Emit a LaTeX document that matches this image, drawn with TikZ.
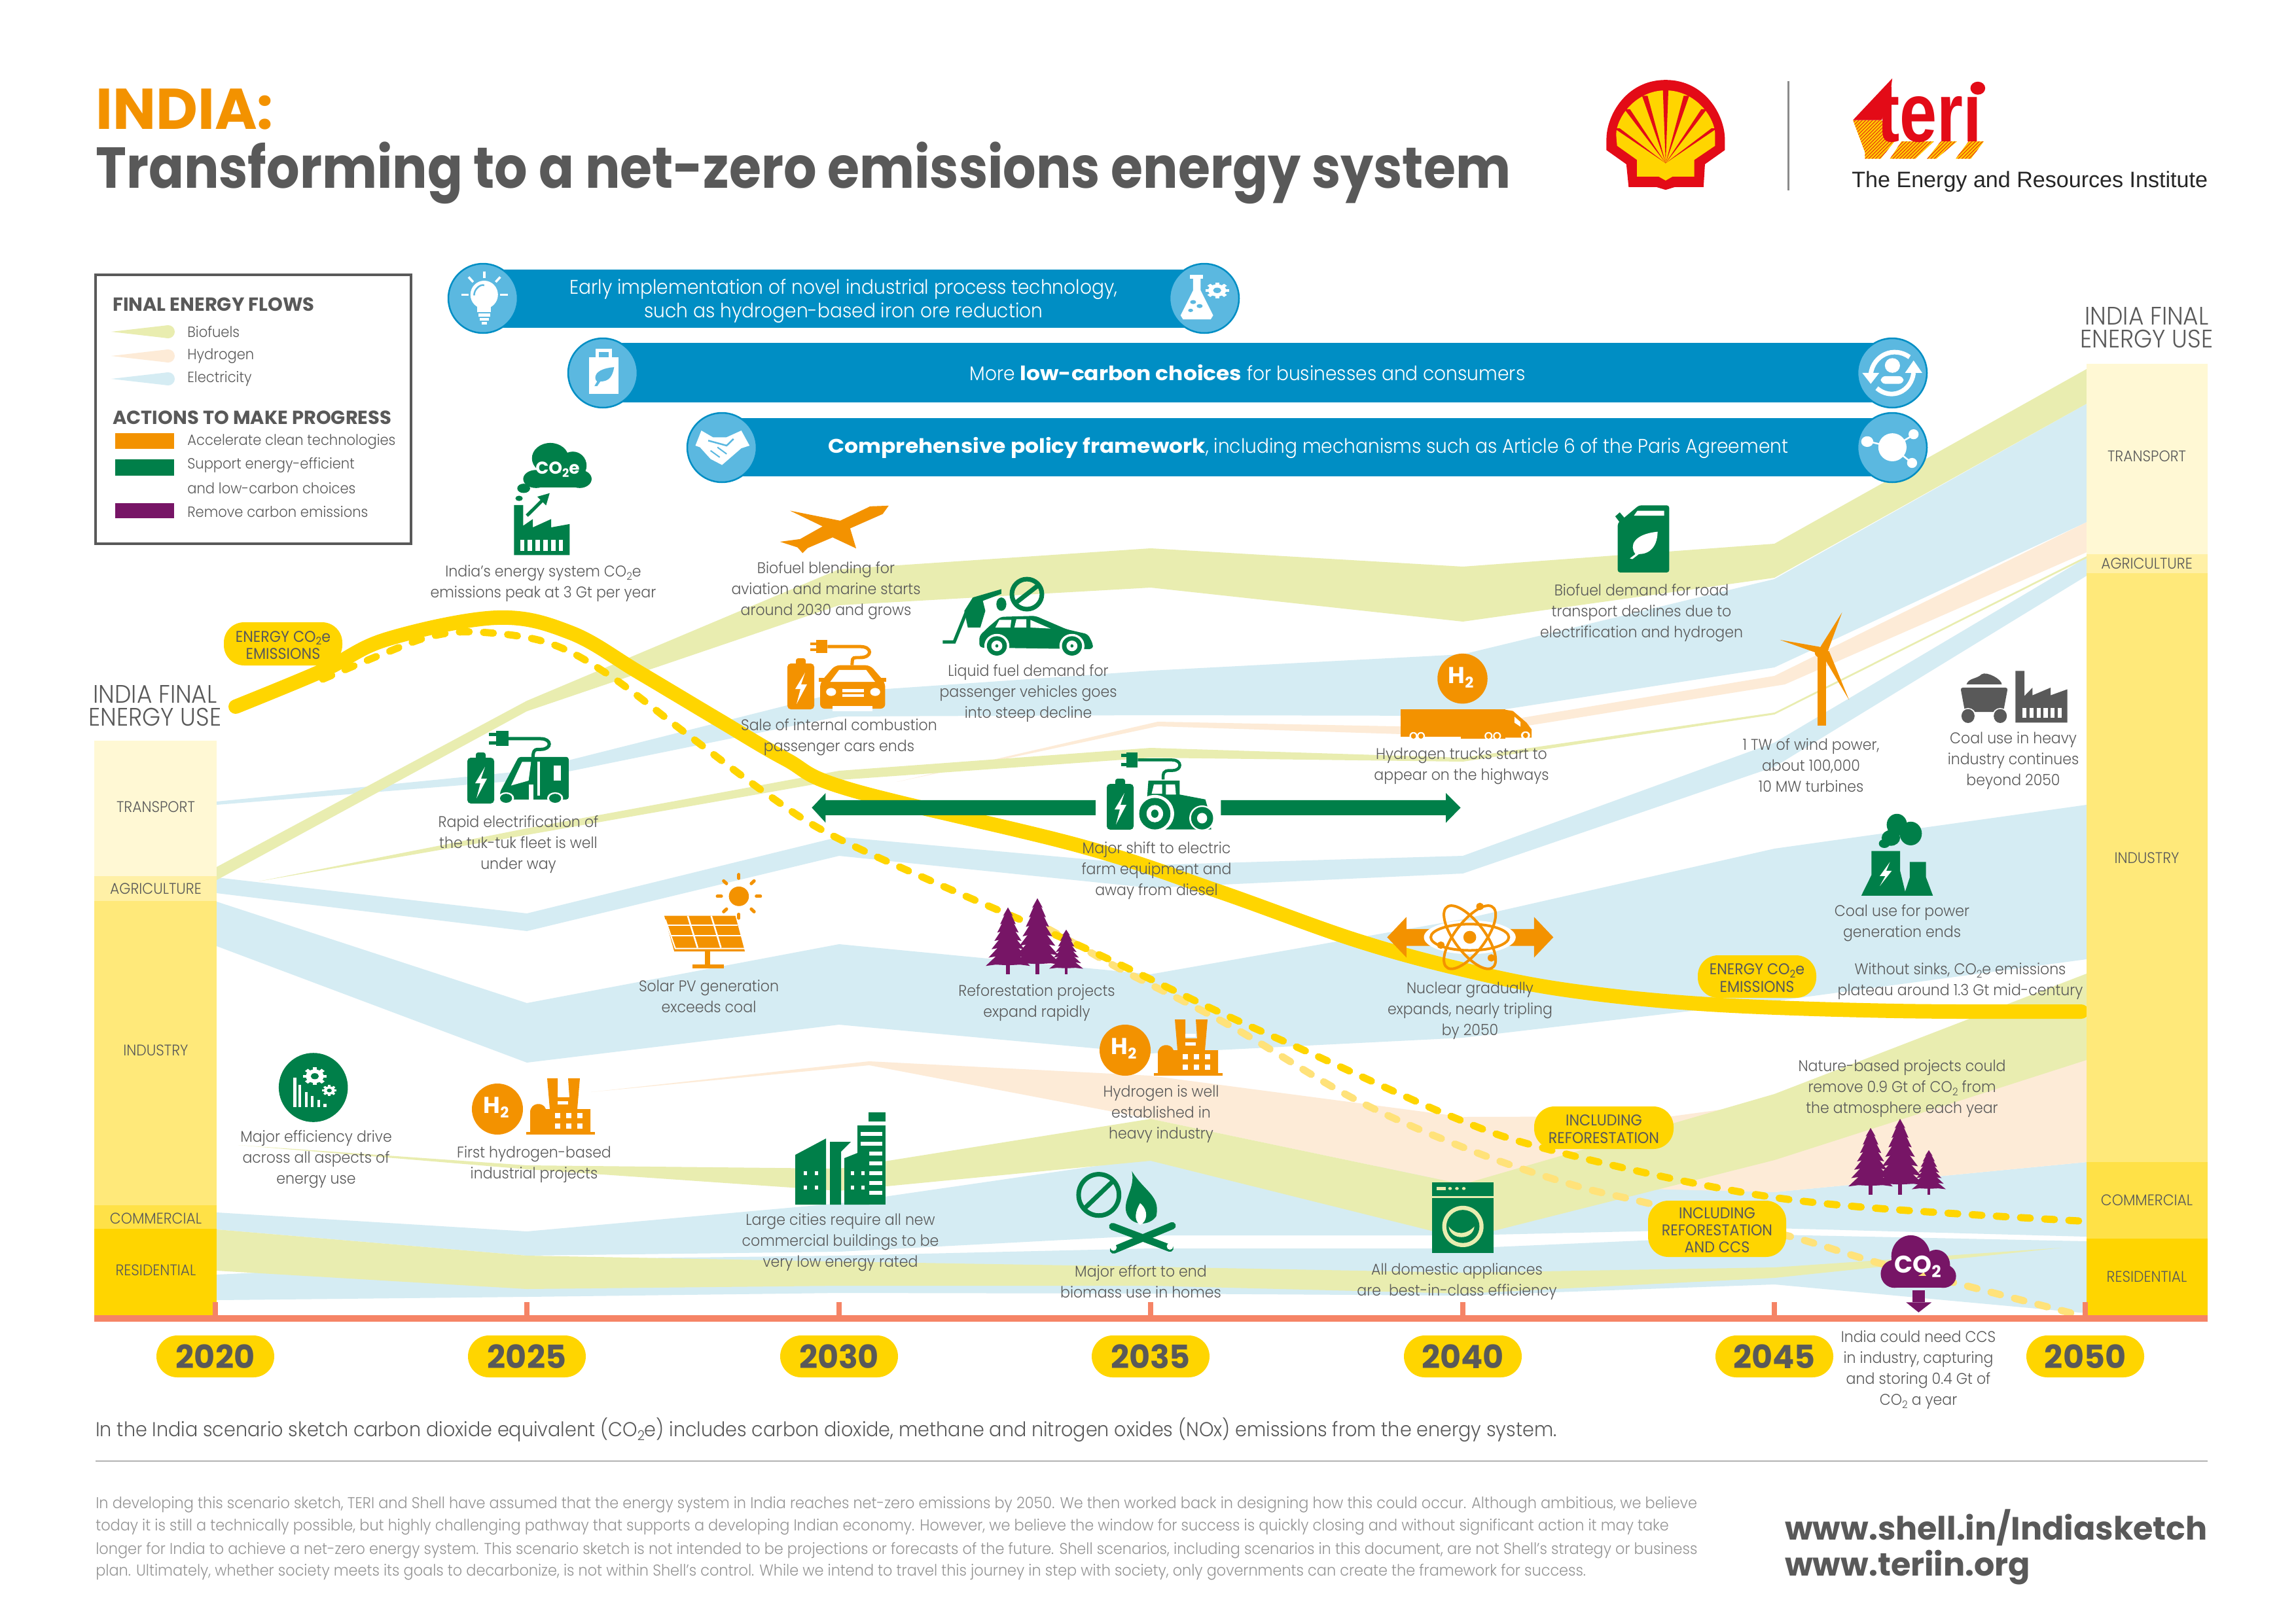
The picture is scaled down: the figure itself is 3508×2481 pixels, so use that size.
\documentclass[tikz,border=0pt]{standalone}
\usepackage{fontspec}
\usepackage{graphicx}
\usetikzlibrary{patterns,arrows.meta}
\setmainfont{Poppins}[UprightFont=* Light,BoldFont=* SemiBold,FakeStretch=0.93]
\newfontfamily\titf{Poppins}[UprightFont=* Bold,FakeStretch=0.9]
\newfontfamily\titb{Poppins}[UprightFont=* Bold,FakeStretch=1.0]
\newfontfamily\heavyf{Poppins}[UprightFont=* Bold,FakeStretch=1.0]
\newfontfamily\wideb{Poppins}[UprightFont=* Bold,FakeStretch=1.09]
\newfontfamily\regf{Poppins}[FakeStretch=0.93]
\newfontfamily\arialf{Liberation Sans}
\newfontfamily\teribf{Liberation Sans}[UprightFont=* Bold,FakeStretch=0.8]
\definecolor{txt}{HTML}{595959}
\definecolor{bio}{HTML}{E9EDB0}
\definecolor{hyd}{HTML}{FDEBD7}
\definecolor{ele}{HTML}{D5ECF3}
\definecolor{yel}{HTML}{FFD500}
\definecolor{yeldash}{HTML}{FFE27A}
\definecolor{org}{HTML}{F39200}
\definecolor{grn}{HTML}{007F49}
\definecolor{pur}{HTML}{771566}
\definecolor{blu}{HTML}{008EC4}
\definecolor{lblu}{HTML}{5BB8E0}
\definecolor{axs}{HTML}{F58466}
\definecolor{shred}{HTML}{E30B17}
\newcommand{\lowtwo}{\raisebox{-0.35ex}{\scalebox{.68}{2}}}
\newcommand{\cotwo}{CO\lowtwo}
\newcommand{\gearicon}[5]{% x y r col hole
 \fill[#4] (#1,#2) circle (#3);
 \foreach \a in {0,45,...,315}{\fill[#4,shift={(#1,#2)},rotate=\a] (-.22*#3,-1.3*#3) rectangle (.22*#3,1.3*#3);}
 \fill[#5] (#1,#2) circle (.45*#3);}
\newcommand{\batt}[3]{\begin{scope}[shift={(#1,#2)}]
 \fill[#3,rounded corners=2pt] (13,0) rectangle (28,12);
 \fill[#3,rounded corners=3pt] (0,8) rectangle (41,78);
 \fill[white] (27,22)--(12,47)--(20,47)--(14,70)--(30,40)--(21,40)--cycle;
 \end{scope}}
\newcommand{\fir}[4]{% cx bottom height halfwidth
 \fill[pur] (#1-.09*#4,#2-.14*#3) rectangle (#1+.09*#4,#2);
 \foreach \i in {0,...,6}{
  \pgfmathsetmacro{\ya}{#2-#3+max(0,\i-1.5)*.125*#3}
  \pgfmathsetmacro{\yb}{#2-#3+(\i+1)*.125*#3}
  \pgfmathsetmacro{\hw}{#4*(.22+\i*.13)}
  \fill[pur] (#1,\ya) -- (#1-\hw,\yb) -- (#1-.55*\hw,\yb-.02*#3) -- (#1,\yb-.01*#3) -- (#1+.55*\hw,\yb-.02*#3) -- (#1+\hw,\yb) -- cycle;}
 }
\newcommand{\trees}[2]{\begin{scope}[shift={(#1,#2)}]
 \fir{33}{0}{102}{34}\fir{78}{0}{116}{37}\fir{122}{0}{68}{26}
 \end{scope}}
\newcommand{\hfactory}[2]{\begin{scope}[shift={(#1,#2)}]
 \fill[org] (0,0) circle (39);
 \node[font=\heavyf\fontsize{20}{20}\selectfont,text=white,inner sep=0] at (-2,-2) {H\raisebox{-.35ex}{\scalebox{.65}{2}}};
 \fill[org] (44,35) rectangle (149,39);
 \fill[org] (50,36)--(50,5)..controls (50,-10) and (70,-12) .. (74,0)--(80,0)--(76,-47)--(92,-47)--(92,-18)--(110,-18)--(108,-47)--(126,-47)--(122,0)--(142,0)--(142,36)--cycle;
 \foreach \a in {88,105,122}{\foreach \b in {6,22}{\fill[white] (\a,\b) rectangle (\a+8,\b+8);}}
 \fill[white] (92,-25) rectangle (108,-20);
 \fill[white] (92,-12) rectangle (108,-7);
 \end{scope}}
\tikzset{x=0.02cm,y=-0.02cm,
 z1/.style={shift={(100,380)},xscale=.7015,yscale=.5102},
 z2/.style={shift={(1100,380)},xscale=.765,yscale=.5102},
 z3/.style={shift={(2300,380)},xscale=.77,yscale=.5102},
 z4/.style={shift={(100,1150)},xscale=.765,yscale=.574},
 z5/.style={shift={(1300,1150)},xscale=.7015,yscale=.574},
 z6/.style={shift={(2400,1150)},xscale=.7066,yscale=.6696},
 z8/.style={shift={(2400,80)},xscale=.7066,yscale=.332},
 captxt/.style={align=center,text=txt,font=\fontsize{13.5}{18.2}\selectfont,inner sep=0},
 barlab/.style={align=center,text=txt,font=\fontsize{13.4}{14}\selectfont,inner sep=0},
 headtxt/.style={align=center,text=txt,font=\fontsize{22}{20}\selectfont,inner sep=0},
 pilltxt/.style={align=center,text=txt,font=\regf\fontsize{13.6}{15}\selectfont,inner sep=0},
 bartxt/.style={align=center,text=white,font=\fontsize{17.2}{20.5}\selectfont,inner sep=0},
 legtxt/.style={anchor=west,text=txt,font=\fontsize{12.9}{14}\selectfont,inner sep=0},
 leghead/.style={anchor=west,text=txt,font=\heavyf\fontsize{16.5}{17}\selectfont,inner sep=0},
 yeartxt/.style={text=txt,font=\heavyf\fontsize{28}{28}\selectfont,inner sep=0},
 foottxt/.style={anchor=west,text=black!42,font=\fontsize{13.7}{15}\selectfont,inner sep=0},
 urltxt/.style={anchor=west,text=txt,font=\heavyf\fontsize{28}{30}\selectfont,inner sep=0},
 bcirc/.style={fill=lblu,draw=blu,line width=.05cm},
 dashA/.style={draw=yel,line width=.22cm,line cap=round,dash pattern=on .3cm off .44cm},
 dashB/.style={draw=yeldash,line width=.22cm,line cap=round,dash pattern=on .3cm off .44cm},
}
\newcommand{\pill}[6]{% name x0 y0 x1 y1 text
 \fill[yel,rounded corners=.62cm] (#2,#3) rectangle (#4,#5);
 \node[pilltxt] (#1) at ({(#2+#4)/2},{(#3+#5)/2+2}) {#6};}
\newcommand{\yearpill}[2]{\fill[yel,rounded corners=.64cm] (#1-90,2041) rectangle (#1+90,2105);
 \node[yeartxt] (y#2) at (#1,2073) {#2};}
\newcommand{\cnode}[4]{\node[captxt] (#1) at (#2,#3+4) {#4};}
\begin{document}
\begin{tikzpicture}
\useasboundingbox (0,0) rectangle (3508,2481);
\fill[white] (0,0) rectangle (3508,2481);
% ---- electricity flows
\fill[ele] (331,1225)--(805,1178)--(1282,1058)--(1758,1025)--(2235,1000)--(2711,885)--(3188,617)--(3188,798)--(2711,1020)--(2235,1094)--(1758,1093)--(1282,1095)--(805,1192)--(331,1230)--cycle;
\fill[ele] (331,1341)--(805,1396)--(1282,1279)--(1758,1322)--(2235,1308)--(2711,1135)--(3188,852)--(3188,880)--(2711,1172)--(2235,1335)--(1758,1357)--(1282,1308)--(805,1423)--(331,1365)--cycle;
\fill[ele] (331,1378)--(805,1533)--(1282,1443)--(1758,1489)--(2235,1405)--(2711,1297)--(3188,1230)--(3188,1466)--(2711,1530)--(2235,1586)--(1758,1610)--(1282,1566)--(805,1624)--(331,1446)--cycle;
\fill[ele] (331,1853)--(805,1882)--(1282,1839)--(1758,1770)--(2235,1787)--(2711,1822)--(3188,1776)--(3188,1890)--(2711,1877)--(2235,1888)--(1758,1888)--(1282,1913)--(805,1919)--(331,1879)--cycle;
\fill[ele] (331,1948)--(805,1925)--(1282,1919)--(1758,1908)--(2235,1908)--(2711,1887)--(3188,1897)--(3188,2007)--(2711,1963)--(2235,1980)--(1758,1977)--(1282,1976)--(805,1982)--(331,1987)--cycle;
% ---- hydrogen flows
\fill[hyd] (1370,1195)--(1769,1103)--(2235,1112)--(2711,1033)--(3188,798)--(3188,844)--(2727,1046)--(2235,1125)--(1769,1110)--cycle;
\fill[hyd] (903,1669)--(1328,1622)--(1758,1644)--(2235,1707)--(2555,1706)--(3188,1620)--(3188,1776)--(2711,1822)--(2235,1810)--(1758,1710)--(1328,1628)--cycle;
% ---- biofuel flows
\fill[bio] (331,1325)--(805,1071)--(1282,870)--(1758,838)--(2235,866)--(2711,831)--(3188,564)--(3188,617)--(2711,883)--(2235,950)--(1758,898)--(1282,925)--(805,1087)--(331,1345)--cycle;
\fill[bio] (395,1347)--(805,1266)--(1282,1178)--(1758,1143)--(2235,1158)--(2711,1089)--(3188,850)--(3188,853)--(2711,1092)--(2235,1164)--(1758,1158)--(1282,1192)--(805,1276)--cycle;
\fill[bio] (364,1750)--(805,1781)--(1282,1786)--(1758,1710)--(2235,1810)--(2711,1672)--(3188,1488)--(3188,1620)--(2711,1773)--(2235,1893)--(1758,1774)--(1282,1820)--(805,1787)--cycle;
\fill[bio] (331,1879)--(805,1919)--(1282,1928)--(1758,1936)--(2235,1945)--(2711,1937)--(3150,1907)--(2711,1953)--(2235,1977)--(1758,1965)--(1282,1965)--(805,1970)--(331,1942)--cycle;
% ---- left stack
\fill[yel!17!white] (144,1132) rectangle (331,1339);
\fill[yel!35!white] (144,1339) rectangle (331,1377);
\fill[yel!52!white] (144,1377) rectangle (331,1842);
\fill[yel!72!white] (144,1842) rectangle (331,1878);
\fill[yel] (144,1878) rectangle (331,2010);
% ---- emission curves
\draw[dashB] plot[smooth,tension=.6] coordinates {(1602,1420)(1658,1451)(1721,1486)(1882,1569)(2072,1681)(2247,1758)(2400,1810)(2506,1836)(2725,1887)(2859,1927)(3000,1964)(3177,2010)};
\draw[dashA] plot[smooth,tension=.6] coordinates {(493,1038)(591,997)(661,972)(731,966)(836,982)(928,1030)(1047,1120)(1171,1213)(1270,1276)(1440,1354)(1651,1446)(1861,1546)(2001,1609)(2212,1704)(2352,1753)(2612,1813)(2824,1843)(3177,1866)};
\draw[yel,line width=.44cm,line cap=round] plot[smooth,tension=.6] coordinates {(360,1080)(493,1025)(591,977)(759,944)(872,967)(977,1028)(1096,1099)(1200,1160)(1300,1207)(1651,1293)(1861,1362)(2072,1437)(2240,1483)(2400,1514)(2612,1535)(2895,1545)(3180,1546)};
% ---- right stack
\fill[yel!17!white] (3188,556) rectangle (3373,847);
\fill[yel!35!white] (3188,847) rectangle (3373,876);
\fill[yel!52!white] (3188,876) rectangle (3373,1776);
\fill[yel!72!white] (3188,1776) rectangle (3373,1893);
\fill[yel] (3188,1893) rectangle (3373,2010);
% axis
\fill[axs] (144,2010) rectangle (3373,2020);
\foreach \t in {329,805,1282,1758,2235,2711,3186}{\fill[axs] (\t-4,1990) rectangle (\t+4,2012);}
\yearpill{329}{2020}\yearpill{805}{2025}\yearpill{1282}{2030}\yearpill{1758}{2035}\yearpill{2235}{2040}\yearpill{2711}{2045}\yearpill{3186}{2050}
% ---- pills
\pill{p1}{342}{951}{523}{1017}{ENERGY \cotwo e\\EMISSIONS}
\pill{p2}{2594}{1460}{2775}{1525}{ENERGY \cotwo e\\EMISSIONS}
\pill{p3}{2344}{1691}{2557}{1756}{INCLUDING\\REFORESTATION}
\pill{p4}{2518}{1835}{2729}{1921}{INCLUDING\\REFORESTATION\\AND CCS}
% ---- title
\node[anchor=west,text=org,font=\titb\fontsize{50}{50}\selectfont,inner sep=0] (t1) at (146,167) {INDIA:};
\node[anchor=west,text=txt,font=\titf\fontsize{50.2}{50}\selectfont,inner sep=0] (t2) at (146,264) {Transforming to a net-zero emissions energy system};
% ---- logos
\begin{scope}[z8]
 \fill[shred] (205,127) .. controls (120,127) and (77,290) .. (77,400) -- (77,450) -- (120,515) -- (125,620) -- (185,620) -- (205,633) -- (225,620) -- (287,620) -- (290,515) -- (333,450) -- (333,400) .. controls (333,290) and (290,127) .. (205,127) -- cycle;
 \fill[yel] (205,175) .. controls (140,175) and (98,300) .. (98,380) -- (100,430) -- (143,495) -- (143,572) -- (190,572) -- (205,590) -- (220,572) -- (267,572) -- (267,495) -- (312,430) -- (312,380) .. controls (312,300) and (270,175) .. (205,175) -- cycle;
 \foreach \xe/\ye in {205/170,160/200,250/200,122/262,288/262,100/350,310/350}{\fill[shred] (205,510)--(\xe-6,\ye)--(\xe+6,\ye)--cycle;}
 \fill[txt!70!white] (469,132) rectangle (472,635);
 \foreach \pp in {{(610,312)--(672,312)--(700,410)--(670,490)--(636,490)--(636,460)},{(715,410)--(785,410)--(745,490)--(690,490)},{(800,410)--(835,410)--(790,490)--(770,490)},{(860,410)--(893,410)--(865,490)--(832,490)}}{
  \fill[yel!85!orange] \pp --cycle; \fill[pattern=north east lines,pattern color=shred] \pp --cycle;}
 \fill[shred] (695,120)--(610,312)--(672,312)--(690,205)--cycle;
 \fill[shred] (880,165) ellipse (16 and 30);
\end{scope}
\node[anchor=base west,inner sep=0,text=shred,font=\teribf\fontsize{73}{73}\selectfont] (teri) at (2868,216) {ter\i};
\node[anchor=west,inner sep=0,text=black!85,font=\arialf\fontsize{19.4}{20}\selectfont] (ter2) at (2829,278) {The Energy and Resources Institute};
% ---- legend
\draw[draw=txt,line width=.08cm] (146,420) rectangle (628,831);
\node[leghead] (l1) at (172,465) {FINAL ENERGY FLOWS};
\foreach \yy/\cc/\tt in {507/bio/Biofuels,544/hyd/Hydrogen,579/ele/Electricity}{
 \fill[\cc] (170,\yy)--(257,\yy-10)--(257,\yy+10)--cycle; \fill[\cc] (257,\yy) circle (10);
 \node[legtxt] at (286,\yy) {\tt};}
\node[leghead] (l2) at (172,638) {ACTIONS TO MAKE PROGRESS};
\fill[org] (176,662) rectangle (266,686);
\fill[grn] (176,702) rectangle (266,727);
\fill[pur] (176,769) rectangle (266,792);
\node[legtxt] (l3) at (286,675) {Accelerate clean technologies};
\node[legtxt] (l4) at (286,711) {Support energy-efficient};
\node[legtxt] (l5) at (286,746) {and low-carbon choices};
\node[legtxt] (l6) at (286,782) {Remove carbon emissions};
% ---- blue bars
\fill[blu] (738,412) rectangle (1840,501);
\fill[blu] (921,524) rectangle (2891,615);
\fill[blu] (1103,639) rectangle (2891,728);
\node[bartxt] (b1) at (1289,460) {Early implementation of novel industrial process technology,\\such as hydrogen-based iron ore reduction};
\node[bartxt] (b2) at (1906,570) {More {\wideb low-carbon choices} for businesses and consumers};
\node[bartxt] (b3) at (1999,684) {{\wideb Comprehensive policy framework}, including mechanisms such as Article 6 of the Paris Agreement};
\foreach \cx/\cy in {738/456,1840/456,921/570,2891/570,1103/684,2891/684}{\draw[bcirc] (\cx,\cy) circle (53);}
\begin{scope}[z1]
 % bulb
 \fill[white] (912,138) ellipse (30 and 42);
 \fill[white] (897,165) rectangle (927,190);
 \fill[white] (899,195) rectangle (925,203); \fill[white] (902,208) rectangle (922,216); \fill[white] (906,220) rectangle (918,228);
 \draw[lblu,line width=.05cm] (890,140) .. controls (890,120) and (905,105) .. (912,110);
 \foreach \xa/\ya/\xb/\yb in {862/138/878/138,947/138/963/138,878/85/888/100,947/85/937/100,912/68/912/88}{\draw[white,line width=.07cm] (\xa,\ya)--(\xb,\yb);}
 % bag
 \fill[white] (1140,325) rectangle (1205,435);
 \draw[white,line width=.1cm] (1158,325)--(1158,305)--(1187,305)--(1187,325);
 \fill[lblu] (1195,355) .. controls (1150,360) and (1150,390) .. (1158,398) -- (1152,412) -- (1158,412) -- (1165,398) .. controls (1185,398) and (1192,380) .. (1195,355) -- cycle;
 % handshake
 \fill[white] (1372,590)--(1385,545)--(1410,565)--(1440,565)--(1472,545)--(1490,590)--(1472,598)--(1430,648)--(1405,630)--(1382,595)--cycle;
 \draw[lblu,line width=.05cm] (1400,575)--(1440,590)--(1455,570);
 \draw[lblu,line width=.04cm] (1405,605)--(1425,625) (1420,595)--(1440,615);
 % CO2e icon
 \fill[grn] (1025,690) ellipse (28 and 27);
 \fill[grn] (1056,628) ellipse (40 and 46);
 \fill[grn] (1105,650) ellipse (30 and 42);
 \fill[grn] (1120,690) ellipse (26 and 27);
 \fill[grn] (1025,670) rectangle (1120,716);
 \fill[grn] (998,718) circle (14);
 \fill[grn] (988,748) circle (8);
 \fill[grn] (977,918)--(977,768)--(997,768)--(997,830)--(1018,810)--(1018,835)--(1058,810)--(1058,835)--(1098,825)--(1098,918)--cycle;
 \foreach \a in {990,1007,1024,1041,1058,1075}{\fill[white] (\a,872) rectangle (\a+9,905);}
 \draw[grn,line width=.1cm,-{Triangle[length=.35cm,width=.35cm]}] (1005,800)--(1055,732);
\end{scope}
\node[inner sep=0,text=white,font=\heavyf\fontsize{15}{15}\selectfont] (co2e) at (852,718) {\cotwo e};
\begin{scope}[z2]
 % flask
 \fill[white] (938,78) rectangle (965,90);
 \fill[white] (945,90)--(960,90)--(960,125)--(985,200)--(980,212)--(925,212)--(920,200)--(945,125)--cycle;
 \fill[lblu] (945,160) circle (6); \fill[lblu] (958,172) circle (6); \fill[lblu] (940,185) circle (5);
 % plane
 \fill[org] (337,770)--(300,772)--(240,815)--(140,785)--(205,832)--(160,870)--(120,878)--(155,895)--(165,912)--(175,897)--(225,865)--(272,898)--(260,838)--(325,795)--cycle;
 % car + plug
 \fill[org] (192,1172) rectangle (215,1212);
 \fill[org] (180,1180) rectangle (192,1188); \fill[org] (180,1198) rectangle (192,1206);
 \draw[org,line width=.1cm] (215,1192)--(280,1192) .. controls (305,1192) and (305,1225) .. (280,1225) -- (272,1225) .. controls (264,1225) and (264,1230) .. (264,1248);
 \fill[org,rounded corners=4pt] (200,1378)--(200,1300)--(230,1248)--(300,1248)--(330,1300)--(330,1378)--cycle;
 \fill[org] (198,1285) rectangle (332,1298);
 \fill[white] (238,1262)--(292,1262)--(310,1298)--(220,1298)--cycle;
 \fill[white] (222,1328) ellipse (10 and 12); \fill[white] (310,1328) ellipse (10 and 12);
 \fill[white] (245,1320) rectangle (288,1328); \fill[white] (245,1335) rectangle (288,1343);
 \fill[white] (225,1370) rectangle (305,1385);
 % green car
 \fill[grn,rounded corners=3pt] (518,1195)--(518,1160)--(535,1135)--(560,1103)--(630,1100)--(692,1140)--(735,1155)--(745,1185)--(745,1200)--cycle;
 \fill[white] (558,1112)--(582,1112)--(580,1135)--(550,1135)--cycle;
 \fill[white] (592,1110)--(612,1110)--(612,1135)--(588,1135)--cycle;
 \fill[white] (620,1112)--(660,1138)--(620,1135)--cycle;
 \foreach \wx in {553,703}{\fill[white] (\wx,1190) ellipse (25 and 36); \fill[grn] (\wx,1190) ellipse (20 and 29); \fill[white] (\wx,1190) ellipse (11 and 16); \fill[grn] (\wx,1190) ellipse (3 and 5);}
 % pump
 \fill[grn] (488,1085)--(505,1045)--(562,1020)--(562,1034)--(525,1055)--(530,1085)--(520,1135)--(495,1135)--cycle;
 \draw[grn,line width=.1cm] (445,1178)--(468,1178)--(493,1085);
 \fill[grn] (562,1065) ellipse (10 and 20);
 \draw[grn,line width=.14cm] (613,1035) ellipse (30 and 45);
 \draw[grn,line width=.14cm] (590,1062)--(636,1008);
\end{scope}
\batt{1203}{1006}{org}
\begin{scope}[z3]
 % refresh
 \fill[white] (768,350) ellipse (15 and 22);
 \fill[white,rounded corners=4pt] (745,405)--(745,382)--(790,382)--(790,405)--cycle;
 \draw[white,line width=.14cm] (725,375) .. controls (730,320) and (770,290) .. (802,325);
 \draw[white,line width=.14cm] (810,372) .. controls (805,430) and (765,455) .. (737,418);
 \fill[white] (708,372)--(742,372)--(725,405)--cycle;
 \fill[white] (793,372)--(827,372)--(810,335)--cycle;
 % network
 \draw[white,line width=.05cm] (722,578)--(768,595)--(810,558) (768,595)--(805,640);
 \fill[white] (768,595) ellipse (28 and 42);
 \fill[white] (718,578) ellipse (12 and 16);
 \fill[white] (810,556) ellipse (10 and 15);
 \fill[white] (807,642) ellipse (10 and 15);
 % jerrycan
 \fill[grn,rounded corners=2pt] (265,769)--(325,769)--(325,970)--(223,970)--(223,822)--cycle;
 \fill[grn] (218,802)--(227,790)--(236,806)--(227,820)--cycle;
 \fill[white] (262,785)--(315,785)--(315,800)--(255,800)--cycle;
 \fill[white] (302,848) .. controls (255,855) and (245,890) .. (258,915) -- (247,928) -- (252,930) -- (265,915) .. controls (290,915) and (302,885) .. (302,848) -- cycle;
 % turbine
 \fill[org] (620,1215) rectangle (636,1428);
 \fill[org] (628,1212) circle (14);
 \fill[org] (620,1205)--(668,1090)--(640,1205)--cycle;
 \fill[org] (632,1195)--(545,1172)--(625,1215)--cycle;
 \fill[org] (630,1220)--(682,1352)--(642,1205)--cycle;
 % coal cart
 \fill[txt] (915,1305) .. controls (920,1285) and (935,1290) .. (945,1275) .. controls (955,1265) and (985,1290) .. (985,1305) -- cycle;
 \fill[txt,rounded corners=2pt] (903,1315)--(997,1315)--(988,1388)--(912,1388)--cycle;
 \foreach \wx in {918,982}{\fill[white] (\wx,1400) ellipse (16 and 24); \fill[txt] (\wx,1400) ellipse (13 and 21);}
 \fill[txt] (1012,1420)--(1012,1265)--(1030,1265)--(1030,1340)--(1046,1315)--(1046,1338)--(1082,1315)--(1082,1338)--(1115,1320)--(1115,1420)--cycle;
 \foreach \a in {1026,1040,1054,1068,1082,1096}{\fill[white] (\a,1375) rectangle (\a+8,1405);}
\end{scope}
\begin{scope}[z2]
 \gearicon{993}{125}{18}{white}{lblu}
 % truck trailer
 \fill[org] (1360,1380) rectangle (1568,1462);
 \fill[org] (1480,1455) rectangle (1568,1468);
 \foreach \wx in {1385,1400,1535,1552}{\fill[white] (\wx,1460) ellipse (8 and 12); \fill[org] (\wx,1460) ellipse (5 and 8);}
 \fill[org] (1483,1288) ellipse (50 and 75);
\end{scope}
\begin{scope}[z3]
 \fill[org] (-5,1380)--(15,1385)--(42,1420)--(52,1440)--(52,1465)--(-5,1465)--cycle;
 \fill[white] (18,1402)--(30,1418)--(30,1432)--(18,1420)--cycle;
 \fill[white] (40,1458) ellipse (9 and 12); \fill[org] (40,1458) ellipse (5 and 8);
\end{scope}
\node[inner sep=0,text=white,font=\heavyf\fontsize{20}{20}\selectfont] (h2t) at (2232,1036) {H\raisebox{-.35ex}{\scalebox{.65}{2}}};
\begin{scope}[z4]
 % efficiency
 \fill[grn] (495,892) ellipse (69 and 92);
 \gearicon{498}{862}{18}{white}{grn}
 \gearicon{527}{900}{11}{white}{grn}
 \foreach \bx/\by in {455/865,465/885,478/905,490/915,503/925,515/935}{\fill[white] (\bx,\by) rectangle (\bx+6,945);}
 % solar
 \fill[org] (1196,435)--(1338,435)--(1357,530)--(1216,530)--cycle;
 \foreach \a in {0.33,0.66}{\draw[white,line width=.05cm] ({1196+\a*142},435)--({1216+\a*141},520);}
 \draw[white,line width=.05cm] (1202,460)--(1343,460) (1208,488)--(1350,488);
 \draw[white,line width=.04cm] (1198,445)--(1218,522)--(1357,522);
 \fill[org] (1277,530) rectangle (1288,570);
 \fill[org] (1252,565) rectangle (1315,575);
 \fill[org] (1345,383) ellipse (20 and 26);
 \foreach \a in {0,45,...,315}{\draw[org,line width=.1cm,line cap=round,shift={(1345,383)}] ({cos(\a)*35},{sin(\a)*48})--({cos(\a)*43},{sin(\a)*58});}
\end{scope}
\batt{714}{1150}{grn}
\begin{scope}[z4]
 % tuk-tuk body
 \fill[grn,rounded corners=2pt] (868,125)--(868,105)--(890,50)--(905,12)--(1005,12)--(1005,125)--cycle;
 \fill[white] (912,25)--(930,25)--(925,75)--(890,88)--cycle;
 \fill[white] (925,85) rectangle (935,125);
 \fill[white] (975,35) rectangle (990,75);
 \fill[white] (942,25) rectangle (948,115);
 \fill[white] (880,122) circle (16); \fill[white] (978,122) circle (16);
 \fill[grn] (880,122) circle (12); \fill[grn] (978,122) circle (12);
\end{scope}
\begin{scope}[z1]
 \fill[grn] (938,1445) rectangle (965,1490);
 \fill[grn] (922,1450) rectangle (938,1460); \fill[grn] (922,1475) rectangle (938,1485);
 \draw[grn,line width=.1cm] (965,1468)--(1035,1468) .. controls (1060,1468) and (1060,1500) .. (1035,1500) -- (1030,1500) .. controls (1018,1500) and (1018,1510) .. (1018,1545);
\end{scope}
\begin{scope}[z5]
 % tractor plug
 \fill[grn] (600,0) rectangle (625,40);
 \fill[grn] (588,3) rectangle (600,12); \fill[grn] (588,28) rectangle (600,37);
 \draw[grn,line width=.09cm] (625,20)--(700,20) .. controls (722,20) and (722,48) .. (700,48) -- (695,48) .. controls (680,48) and (680,55) .. (680,72);
 \fill[grn] (648,75)--(716,75)--(716,112)--(772,125)--(778,150)--(785,205)--(640,205)--cycle;
 \fill[white] (660,85)--(678,85)--(678,110)--(655,110)--cycle;
 \fill[white] (686,85)--(706,85)--(708,112)--(686,112)--cycle;
 \fill[white] (662,163) ellipse (42 and 50); \fill[grn] (662,163) ellipse (34 and 42);
 \fill[white] (662,163) ellipse (18 and 23); \fill[grn] (662,163) ellipse (8 and 11);
 \fill[white] (765,175) ellipse (28 and 34); \fill[grn] (765,175) ellipse (24 and 30); \fill[white] (765,175) ellipse (11 and 14);
 % arrows green
 \fill[grn] (533,127)--(-55,127)--(-55,108)--(-85,147)--(-55,187)--(-55,167)--(533,167)--cycle;
 \fill[grn] (806,127)--(1296,127)--(1296,108)--(1328,147)--(1296,187)--(1296,167)--(806,167)--cycle;
 % atom
 \fill[org] (1168,492)--(1210,438)--(1210,470)--(1270,470)--(1270,515)--(1210,515)--(1210,546)--cycle;
 \fill[org] (1530,492)--(1488,438)--(1488,470)--(1430,470)--(1430,515)--(1488,515)--(1488,546)--cycle;
 \fill[white] (1348,492) ellipse (100 and 45);
 \draw[org,line width=.08cm] (1348,492) ellipse (85 and 35);
 \foreach \an in {60,-60}{\draw[org,line width=.08cm,rotate around={\an:(1348,492)}] (1348,492) ellipse (95 and 35);}
 \fill[org] (1348,492) ellipse (14 and 17);
 \fill[org] (1285,513) ellipse (8 and 10); \fill[org] (1395,547) ellipse (8 and 10); \fill[org] (1370,410) ellipse (8 and 10);
 % washing machine
 \fill[grn] (1266,1145) rectangle (1400,1332);
 \fill[bio] (1266,1182) rectangle (1400,1186);
 \fill[bio] (1276,1156) rectangle (1296,1166);
 \foreach \a in {1305,1320,1335}{\fill[bio] (\a,1161) circle (4);}
 \fill[bio] (1333,1262) ellipse (45 and 55);
 \fill[grn] (1333,1262) ellipse (36 and 44);
 \fill[bio] (1302,1262) .. controls (1320,1290) and (1345,1280) .. (1358,1262) .. controls (1355,1300) and (1305,1300) .. (1302,1262) -- cycle;
 % fire
 \draw[grn,line width=.14cm] (540,1178) ellipse (44 and 55);
 \draw[grn,line width=.14cm] (508,1215)--(572,1140);
 \fill[grn] (612,1115) .. controls (640,1170) and (675,1180) .. (665,1235) .. controls (650,1262) and (610,1262) .. (600,1225) .. controls (592,1190) and (620,1160) .. (612,1115) -- cycle;
 \fill[white] (630,1200) .. controls (650,1220) and (645,1250) .. (630,1258) .. controls (615,1245) and (620,1220) .. (630,1200) -- cycle;
 \draw[grn,line width=.22cm,line cap=round] (572,1325)--(700,1260);
 \draw[grn,line width=.22cm,line cap=round] (570,1262)--(695,1320);
 \fill[white] (572,1318) ellipse (7 and 9); \fill[white] (695,1315) ellipse (7 and 9);
\end{scope}
\hfactory{760}{1695}
\hfactory{1719}{1605}
\batt{1691}{1190}{grn}
\trees{1507}{1489}
\trees{2825}{1826}
% buildings
\fill[grn] (1215,1765)--(1262,1740)--(1262,1841)--(1215,1841)--cycle;
\fill[grn] (1268,1745)--(1300,1745)--(1285,1760)--(1285,1841)--(1268,1841)--cycle;
\fill[grn] (1327,1700) rectangle (1353,1714);
\fill[grn] (1310,1720) rectangle (1353,1841);
\foreach \sy in {1730,1745,1760,1775,1790,1805,1820}{\fill[white] (1315,\sy) rectangle (1348,\sy+6);}
\fill[grn] (1290,1770)--(1328,1755)--(1328,1841)--(1290,1841)--cycle;
\foreach \bx/\by in {1228/1790,1228/1812,1245/1790,1245/1812,1300/1790,1300/1812,1316/1790,1316/1812}{\fill[white] (\bx,\by) rectangle (\bx+5,\by+6);}
\begin{scope}[z6]
 % coal plant
 \fill[grn] (628,327)--(650,280)--(650,225)--(712,225)--(712,270)--(725,327)--cycle;
 \fill[grn] (720,327)--(733,285)--(733,250)--(768,250)--(768,285)--(783,327)--cycle;
 \fill[white] (690,250)--(668,282)--(680,282)--(668,305)--(694,270)--(682,270)--cycle;
 \fill[grn] (705,165) ellipse (22 and 25); \fill[grn] (735,185) ellipse (24 and 27); \fill[grn] (692,195) ellipse (20 and 18); \fill[grn] (678,208) ellipse (12 and 10);
 % CO2 cloud
 \fill[pur] (700,1190) ellipse (30 and 32);
 \fill[pur] (735,1150) ellipse (42 and 48);
 \fill[pur] (790,1170) ellipse (30 and 35);
 \fill[pur] (805,1195) ellipse (28 and 27);
 \fill[pur] (700,1195) rectangle (805,1222);
 \fill[pur] (738,1228) rectangle (766,1255);
 \fill[pur] (725,1255)--(780,1255)--(752,1278)--cycle;
\end{scope}
\node[inner sep=0,text=white,font=\heavyf\fontsize{21}{21}\selectfont] (co2c) at (2930,1936) {\cotwo};
\node[headtxt] (h1) at (237,1079) {INDIA FINAL\\ENERGY USE};
\node[headtxt] (h2) at (3280,501) {INDIA FINAL\\ENERGY USE};
\foreach \lab/\yy in {TRANSPORT/1233,AGRICULTURE/1358,INDUSTRY/1605,COMMERCIAL/1862,RESIDENTIAL/1941}{\node[barlab] at (238,\yy) {\lab};}
\foreach \lab/\yy in {TRANSPORT/697,AGRICULTURE/861,INDUSTRY/1311,COMMERCIAL/1834,RESIDENTIAL/1951}{\node[barlab] at (3280,\yy) {\lab};}
% ---- captions
\cnode{c1}{830}{888}{India’s energy system \cotwo e\\emissions peak at 3 Gt per year}
\cnode{c2}{1262}{899}{Biofuel blending for\\aviation and marine starts\\around 2030 and grows}
\cnode{c3}{1571}{1056}{Liquid fuel demand for\\passenger vehicles goes\\into steep decline}
\cnode{c4}{1282}{1123}{Sale of internal combustion\\passenger cars ends}
\cnode{c5}{792}{1287}{Rapid electrification of\\the tuk-tuk fleet is well\\under way}
\cnode{c6}{1083}{1519}{Solar PV generation\\exceeds coal}
\cnode{c7}{1584}{1529}{Reforestation projects\\expand rapidly}
\cnode{c8}{1767}{1327}{Major shift to electric\\farm equipment and\\away from diesel}
\cnode{c9}{1774}{1699}{Hydrogen is well\\established in\\heavy industry}
\cnode{c10}{483}{1768}{Major efficiency drive\\across all aspects of\\energy use}
\cnode{c11}{816}{1776}{First hydrogen-based\\industrial projects}
\cnode{c12}{1284}{1895}{Large cities require all new\\commercial buildings to be\\very low energy rated}
\cnode{c13}{1743}{1955}{Major effort to end\\biomass use in homes}
\cnode{c14}{2226}{1955}{All domestic appliances\\are\ \ best-in-class efficiency}
\cnode{c15}{2246}{1541}{Nuclear gradually\\expands, nearly tripling\\by 2050}
\cnode{c16}{2233}{1167}{Hydrogen trucks start to\\appear on the highways}
\cnode{c17}{2508}{933}{Biofuel demand for road\\transport declines due to\\electrification and hydrogen}
\cnode{c18}{2767}{1166}{1 TW of wind power,\\about 100,000\\10 MW turbines}
\cnode{c19}{3076}{1159}{Coal use in heavy\\industry continues\\beyond 2050}
\cnode{c20}{2906}{1407}{Coal use for power\\generation ends}
\cnode{c21}{2995}{1496}{Without sinks, \cotwo e emissions\\plateau around 1.3 Gt mid-century}
\cnode{c22}{2906}{1660}{Nature-based projects could\\remove 0.9 Gt of \cotwo{} from\\the atmosphere each year}
\cnode{c23}{2931}{2090}{India could need CCS\\in industry, capturing\\and storing 0.4 Gt of\\\cotwo{} a year}
% ---- bottom text
\node[anchor=west,text=txt,font=\fontsize{17.5}{18}\selectfont,inner sep=0] (note) at (146,2185) {In the India scenario sketch carbon dioxide equivalent (\cotwo e) includes carbon dioxide, methane and nitrogen oxides (NOx) emissions from the energy system.};
\draw[draw=black!30,line width=.04cm] (146,2233)--(3373,2233);
\node[foottxt] (f1) at (146,2300) {In developing this scenario sketch, TERI and Shell have assumed that the energy system in India reaches net-zero emissions by 2050. We then worked back in designing how this could occur. Although ambitious, we believe};
\node[foottxt] (f2) at (146,2334) {today it is still a technically possible, but highly challenging pathway that supports a developing Indian economy. However, we believe the window for success is quickly closing and without significant action it may take};
\node[foottxt] (f3) at (146,2370) {longer for India to achieve a net-zero energy system. This scenario sketch is not intended to be projections or forecasts of the future. Shell scenarios, including scenarios in this document, are not Shell’s strategy or business};
\node[foottxt] (f4) at (146,2403) {plan. Ultimately, whether society meets its goals to decarbonize, is not within Shell’s control. While we intend to travel this journey in step with society, only governments can create the framework for success.};
\node[urltxt] (u1) at (2727,2335) {www.shell.in/Indiasketch};
\node[urltxt] (u2) at (2727,2396) {www.teriin.org};
\end{tikzpicture}
\end{document}
